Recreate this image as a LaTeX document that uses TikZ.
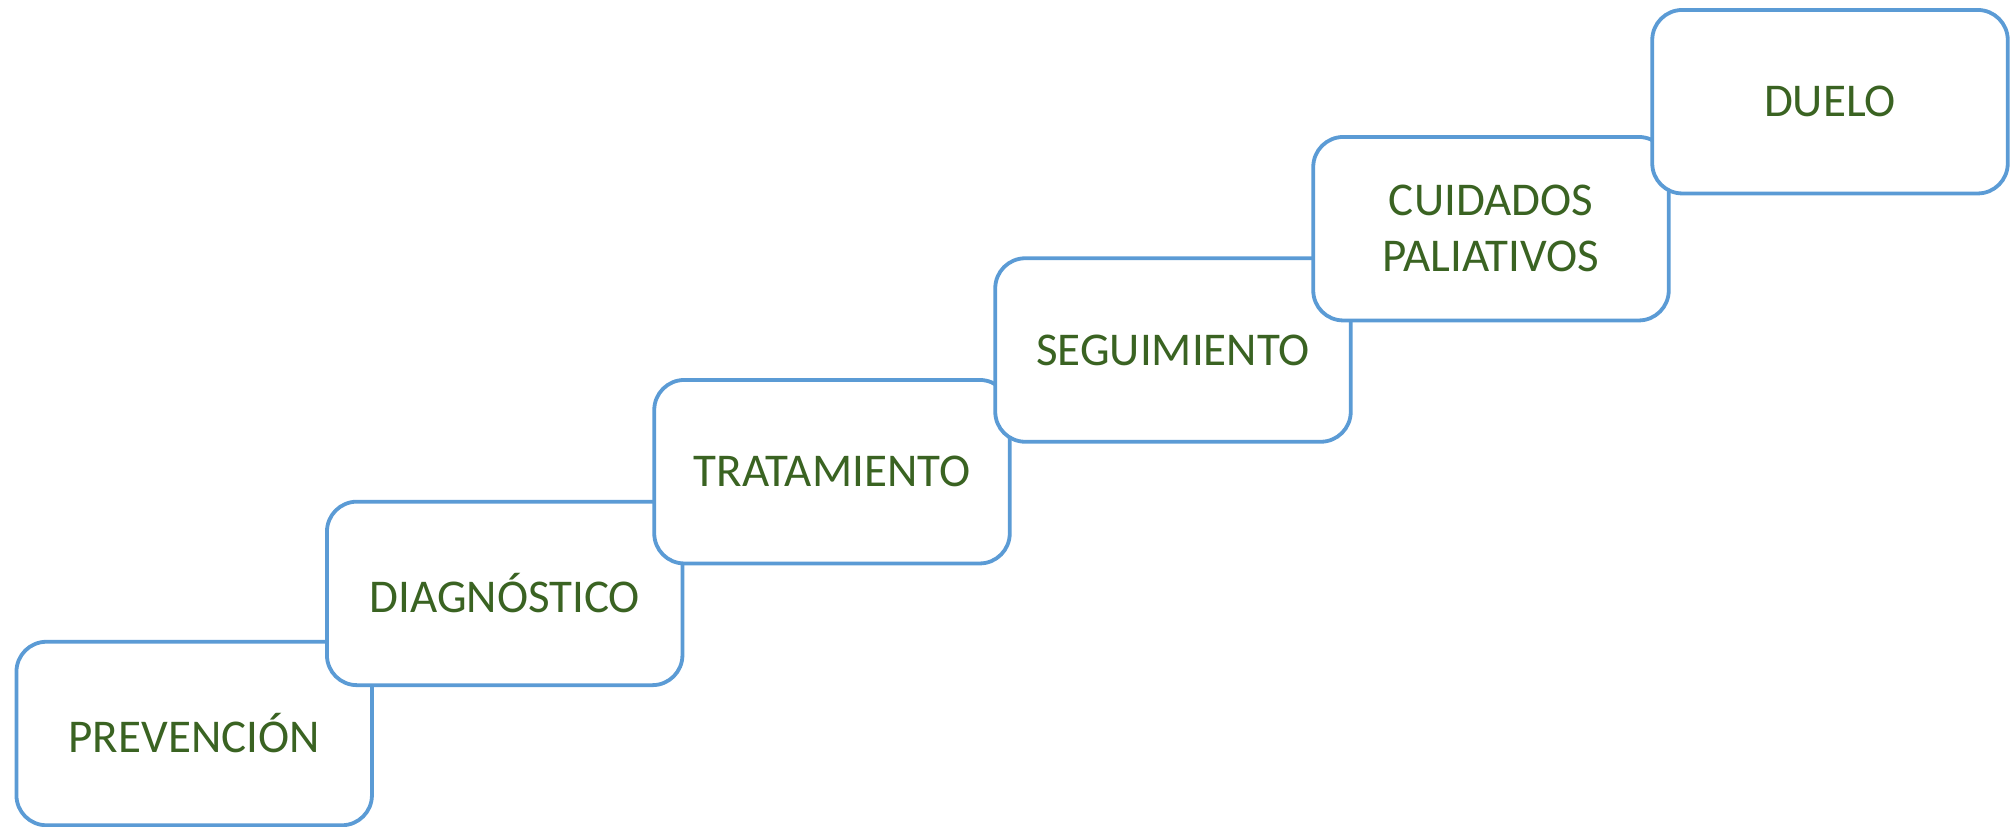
\documentclass[tikz,border=0pt]{standalone}
\usepackage{fontspec}
\setmainfont{Carlito}
\definecolor{boxblue}{HTML}{5B9BD5}
\definecolor{txtgreen}{HTML}{3A6322}
\tikzset{
  stage/.style={draw=boxblue, line width=1.9pt, fill=white, rounded corners=15pt,
    minimum width=177.75pt, minimum height=91.75pt, inner sep=0pt,
    text=txtgreen, font=\fontsize{23.5}{28}\selectfont, align=center}
}
\begin{document}
\begin{tikzpicture}[x=0.5pt,y=-0.5pt]
\useasboundingbox (0,0) rectangle (2010,826);
\node[stage] (prev) at (194.2,733.5) {PREVENCIÓN};
\node[stage] (diag) at (504.7,593.4) {DIAGNÓSTICO};
\node[stage] (trat) at (832,471.7) {TRATAMIENTO};
\node[stage] (seg) at (1173,350) {SEGUIMIENTO};
\node[stage] (cuid) at (1491,228.7) {CUIDADOS\\PALIATIVOS};
\node[stage] (duelo) at (1830,101.7) {DUELO};
\end{tikzpicture}
\end{document}
